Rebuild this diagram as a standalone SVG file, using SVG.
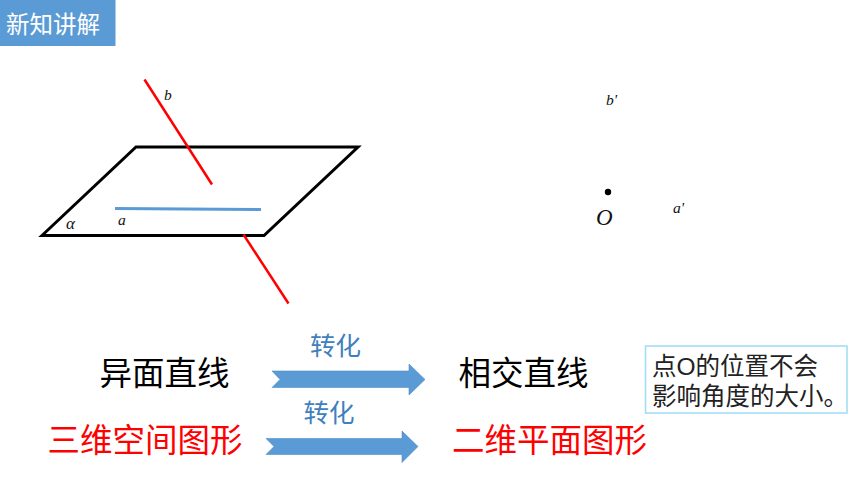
<svg xmlns="http://www.w3.org/2000/svg" width="860" height="484" viewBox="0 0 860 484">
<style>
.cjk{font-family:"Noto Sans CJK SC","Liberation Sans",sans-serif}
.m{font-family:"Liberation Serif",serif;font-style:italic;fill:#111}
.big{font-size:32.500px;text-anchor:middle}
.blue{font-size:25.500px;fill:#3f80bd;text-anchor:middle}
.note{font-family:"Liberation Sans","Noto Sans CJK SC",sans-serif;font-size:24.500px;fill:#222}
.arrow{fill:#5b9bd5;stroke:#4f8dc4;stroke-width:.6}
</style>
<rect width="860" height="484" fill="#fff"/>
<g id="title"><rect x="0" y="0" width="115.500" height="46" fill="#5b9bd5"/><text class="cjk" x="6" y="33" font-size="23.500" fill="#fff">新知讲解</text></g>
<g id="plane"><polygon points="42,235.500 136,147 358,147 264,235.500" fill="none" stroke="#000" stroke-width="3"/><text class="m" x="66" y="228.500" font-size="17">α</text></g>
<g id="line-a"><line x1="115" y1="208.500" x2="261" y2="209.500" stroke="#5b9bd5" stroke-width="3"/><text class="m" x="118" y="225" font-size="15.500">a</text></g>
<g id="line-b"><line x1="144.500" y1="79.500" x2="212" y2="184.500" stroke="#f00" stroke-width="2.500"/><line x1="243.500" y1="234.500" x2="288.500" y2="303.500" stroke="#f00" stroke-width="2.500"/><text class="m" x="164" y="100" font-size="15.500">b</text></g>
<g id="point-o"><circle cx="608" cy="192" r="3.200" fill="#000"/><text class="m" x="596" y="224.500" font-size="23">O</text></g>
<g id="label-b1"><text class="m" x="606" y="105" font-size="15.500">b'</text></g>
<g id="label-a1"><text class="m" x="673" y="213" font-size="15.500">a'</text></g>
<g id="t1"><text class="cjk big" x="164.500" y="385">异面直线</text></g>
<g id="t2"><text class="cjk big" x="523.500" y="385">相交直线</text></g>
<g id="t3"><text class="cjk big" x="145" y="452" fill="#f00">三维空间图形</text></g>
<g id="t4"><text class="cjk big" x="549.500" y="452" fill="#f00">二维平面图形</text></g>
<g id="connectors">
<polygon class="arrow" points="272,371 409,371 409,364 425,379.500 409,395 409,387.500 272,387.500 280,379.500"/>
<polygon class="arrow" points="266,438.500 402,438.500 402,431 418,446.500 402,462.500 402,454.500 266,454.500 274,446.500"/>
<text class="cjk blue" x="335.500" y="355">转化</text>
<text class="cjk blue" x="329" y="422">转化</text>
</g>
<g id="note"><rect x="645.500" y="346" width="201.500" height="67" fill="#fff" stroke="#9fdcf5" stroke-width="1.500"/><text class="note" x="652" y="375">点O的位置不会</text><text class="note" x="652" y="405">影响角度的大小。</text></g>
</svg>
